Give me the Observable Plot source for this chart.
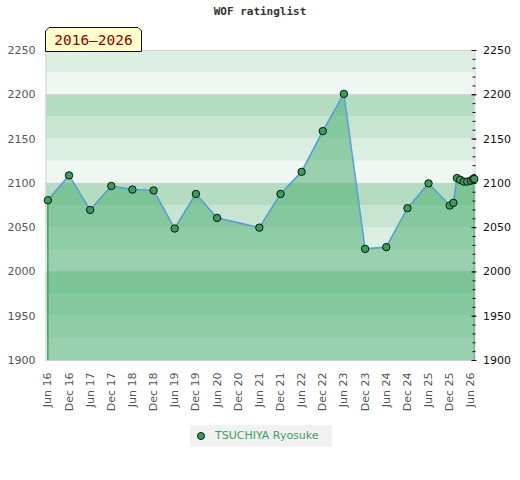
<!DOCTYPE html>
<html>
<head>
<meta charset="utf-8">
<script src="https://cdn.jsdelivr.net/npm/d3@7"></script>
<script src="https://cdn.jsdelivr.net/npm/@observablehq/plot@0.6"></script>
<style>
  html, body { margin: 0; padding: 0; background: #fff; }
  #wrap { position: relative; width: 520px; height: 480px; font-family: "DejaVu Sans", sans-serif; }
  #title { position: absolute; left: 0; width: 520px; top: 5px; text-align: center; font: bold 11px "DejaVu Sans Mono", monospace; color: #333; }
  #chart { position: absolute; left: 0; top: 0; }
  #badge { position: absolute; left: 44px; top: 26px; width: 99px; height: 26px; }
  #legend { position: absolute; left: 190px; top: 425px; width: 142px; height: 22px; background: #f1f1f1; }
  #legend svg { position: absolute; left: 6px; top: 6px; }
  #legend span { position: absolute; left: 25px; top: 4px; font: 11px "DejaVu Sans", sans-serif; color: #3aa35a; white-space: nowrap; }
</style>
</head>
<body>
<div id="wrap">
  <div id="chart"></div>
  <div id="title"></div>
  <svg id="badge" width="99" height="26"></svg>
  <div id="legend"><svg width="10" height="10"><circle cx="5" cy="5" r="3.5" fill="#3a9e5a" stroke="#111" stroke-width="1"></circle></svg><span></span></div>
</div>
<script>
const titleText = "WOF ratinglist";
const periodText = "2016–2026";
const playerName = "TSUCHIYA Ryosuke";

const dates = [
  "2016-06-01","2016-12-01","2017-06-01","2017-12-01","2018-06-01","2018-12-01",
  "2019-06-01","2019-12-01","2020-06-01","2021-06-01","2021-12-01","2022-06-01",
  "2022-12-01","2023-06-01","2023-12-01","2024-06-01","2024-12-01","2025-06-01",
  "2025-12-01","2026-01-01","2026-02-01","2026-03-01","2026-04-01","2026-05-01",
  "2026-06-01","2026-06-20","2026-07-01"
];
const ratings = [
  2081, 2109, 2070, 2097, 2093, 2092,
  2049, 2088, 2061, 2050, 2088, 2113,
  2159, 2201, 2026, 2028, 2072, 2100,
  2075, 2078, 2106, 2104, 2102, 2102,
  2103, 2105, 2105
];
const xTickLabels = [
  "2016-06-01","2016-12-01","2017-06-01","2017-12-01","2018-06-01","2018-12-01",
  "2019-06-01","2019-12-01","2020-06-01","2020-12-01","2021-06-01","2021-12-01",
  "2022-06-01","2022-12-01","2023-06-01","2023-12-01","2024-06-01","2024-12-01",
  "2025-06-01","2025-12-01","2026-06-01"
];
const xDomain = ["2016-05-16", "2026-07-07"];
const yDomain = [1900, 2250];
const yLabelTicks = [1900, 1950, 2000, 2050, 2100, 2150, 2200, 2250];
const yGridLines = [2000, 2100, 2200];
const bandColors = ["#eef7f2", "#dbeee2", "#c7e5d1", "#b3dcc1"];

const data = dates.map((d, i) => ({date: new Date(d), rating: ratings[i]}));
const bands = d3.range(yDomain[0], yDomain[1], 25).map(lo => ({lo, hi: lo + 25, c: bandColors[((lo % 100) / 25) | 0]}));
const minorTicks = d3.range(yDomain[0], yDomain[1] + 1, 10);
const edges = [data[0], data[data.length - 1]];
const intFmt = d3.format("d");

const chart = Plot.plot({
  width: 520,
  height: 420,
  marginTop: 50,
  marginBottom: 60,
  marginLeft: 45.5,
  marginRight: 45.5,
  style: {fontFamily: "DejaVu Sans, sans-serif", fontSize: "11px", background: "transparent"},
  x: {type: "utc", domain: xDomain.map(d => new Date(d))},
  y: {domain: yDomain},
  color: {type: "identity"},
  marks: [
    Plot.rectY(bands, {y1: "lo", y2: "hi", fill: "c"}),
    Plot.ruleY(yGridLines, {stroke: "#cfcfcf"}),
    Plot.areaY(data, {x: "date", y1: yDomain[0], y2: "rating", fill: "#43ac6a", fillOpacity: 0.5}),
    Plot.ruleX(edges, {x: "date", y1: yDomain[0], y2: "rating", stroke: "#3a9b58", strokeWidth: 1.3}),
    Plot.frame({stroke: "#d2d2d2"}),
    Plot.line(data, {x: "date", y: "rating", stroke: "#5b9fd6", strokeWidth: 1.6}),
    Plot.dot(data, {x: "date", y: "rating", r: 3.7, fill: "#3a9e5a", stroke: "#111", strokeWidth: 1}),
    Plot.axisY({anchor: "left", ticks: yLabelTicks, tickFormat: intFmt, tickSize: 0, tickPadding: 10.5, fill: "#555", label: null}),
    Plot.axisY({anchor: "right", ticks: yLabelTicks, tickFormat: intFmt, tickSize: 0, tickPadding: 8, fill: "#111", label: null}),
    Plot.axisY({anchor: "right", ticks: minorTicks, tickSize: 3, dx: -3, fill: "none", stroke: "#111", label: null}),
    Plot.axisY({anchor: "right", ticks: yLabelTicks, tickSize: 5, dx: -4, fill: "none", stroke: "#111", label: null}),
    Plot.axisX({ticks: xTickLabels.map(d => new Date(d)), tickFormat: d3.utcFormat("%b %y"), tickRotate: -90, tickSize: 0, tickPadding: 12, fill: "#555", label: null})
  ]
});
document.getElementById("chart").appendChild(chart);
document.getElementById("title").textContent = titleText;
document.querySelector("#legend span").textContent = playerName;

const badge = d3.select("#badge");
badge.append("polygon")
  .attr("points", "1.5,25.5 1.5,5 5,1.5 94,1.5 97.5,5 97.5,25.5")
  .attr("fill", "#ffffcc").attr("stroke", "#111").attr("stroke-width", 1);
badge.append("text")
  .attr("x", 49.5).attr("y", 19)
  .attr("text-anchor", "middle")
  .attr("font-family", "DejaVu Sans Mono, monospace")
  .attr("font-size", 14.5)
  .attr("fill", "#8b0000")
  .text(periodText);
</script>
</body>
</html>
